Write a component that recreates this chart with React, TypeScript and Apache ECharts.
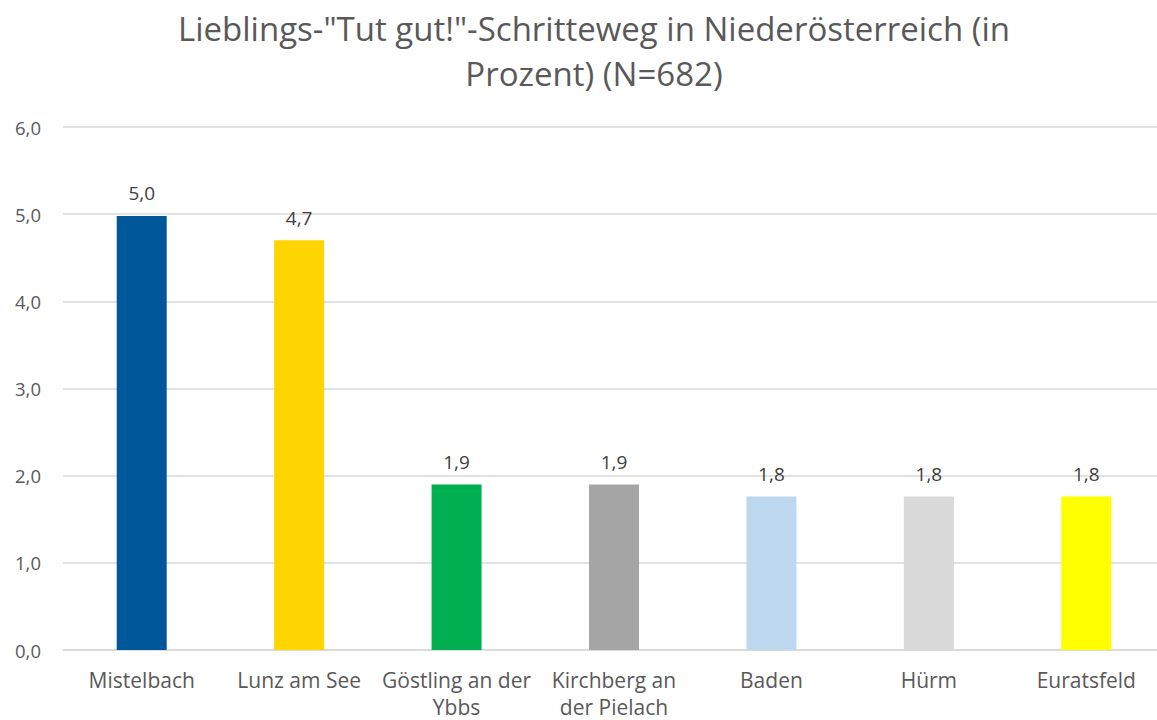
import React, { useEffect, useRef } from "react";
import * as echarts from "echarts";

const categories = [
  "Mistelbach",
  "Lunz am See",
  "Göstling an der\nYbbs",
  "Kirchberg an\nder Pielach",
  "Baden",
  "Hürm",
  "Euratsfeld",
];
const values = [4.98, 4.7, 1.9, 1.9, 1.76, 1.76, 1.76];
const barColors = ["#00589A", "#FFD500", "#00AF50", "#A5A5A5", "#BDD7EE", "#D9D9D9", "#FFFF00"];
const titleLines = ['Lieblings-"Tut gut!"-Schritteweg in Niederösterreich (in', "Prozent) (N=682)"];

const FONT = "'Open Sans', 'Noto Sans', sans-serif";

export default function App() {
  const ref = useRef<HTMLDivElement>(null);
  useEffect(() => {
    if (!ref.current) return;
    const chart = echarts.init(ref.current, undefined, { renderer: "svg", width: 1157, height: 720 });
    const titleStyle = {
      fontFamily: FONT,
      fontSize: 33,
      fontWeight: "normal",
      color: "#595959",
    };
    chart.setOption({
      animation: false,
      backgroundColor: "#ffffff",
      title: [
        { text: titleLines[0], left: 589, textAlign: "center", top: 7, textStyle: titleStyle },
        { text: titleLines[1], left: 589, textAlign: "center", top: 52, textStyle: titleStyle },
      ],
      grid: {
        left: 63,
        right: -8,
        top: 127,
        bottom: 70,
        containLabel: false,
        outerBoundsMode: "none",
      },
      xAxis: {
        type: "category",
        data: categories,
        axisLine: { lineStyle: { color: "#D9D9D9", width: 1.5 } },
        axisTick: { show: false },
        axisLabel: {
          interval: 0,
          margin: 16,
          fontFamily: FONT,
          fontSize: 21,
          color: "#595959",
          lineHeight: 27,
        },
      },
      yAxis: {
        type: "value",
        min: 0,
        max: 6,
        interval: 1,
        axisLine: { show: false },
        axisTick: { show: false },
        splitLine: { lineStyle: { color: "#D9D9D9", width: 1.5 } },
        axisLabel: {
          margin: 22,
          fontFamily: FONT,
          fontSize: 18.5,
          color: "#595959",
          formatter: (v: number) => v.toFixed(1).replace(".", ","),
        },
      },
      series: [
        {
          type: "bar",
          barWidth: 50,
          data: values.map((v, i) => ({ value: v, itemStyle: { color: barColors[i] } })),
          label: {
            show: true,
            position: "top",
            distance: 13,
            fontFamily: FONT,
            fontSize: 19,
            color: "#404040",
            formatter: (p: any) => Number(p.value).toFixed(1).replace(".", ","),
          },
        },
      ],
    });
    return () => chart.dispose();
  }, []);
  return (
    <div
      ref={ref}
      style={{ position: "fixed", left: 0, top: 0, width: 1157, height: 720 }}
    />
  );
}
